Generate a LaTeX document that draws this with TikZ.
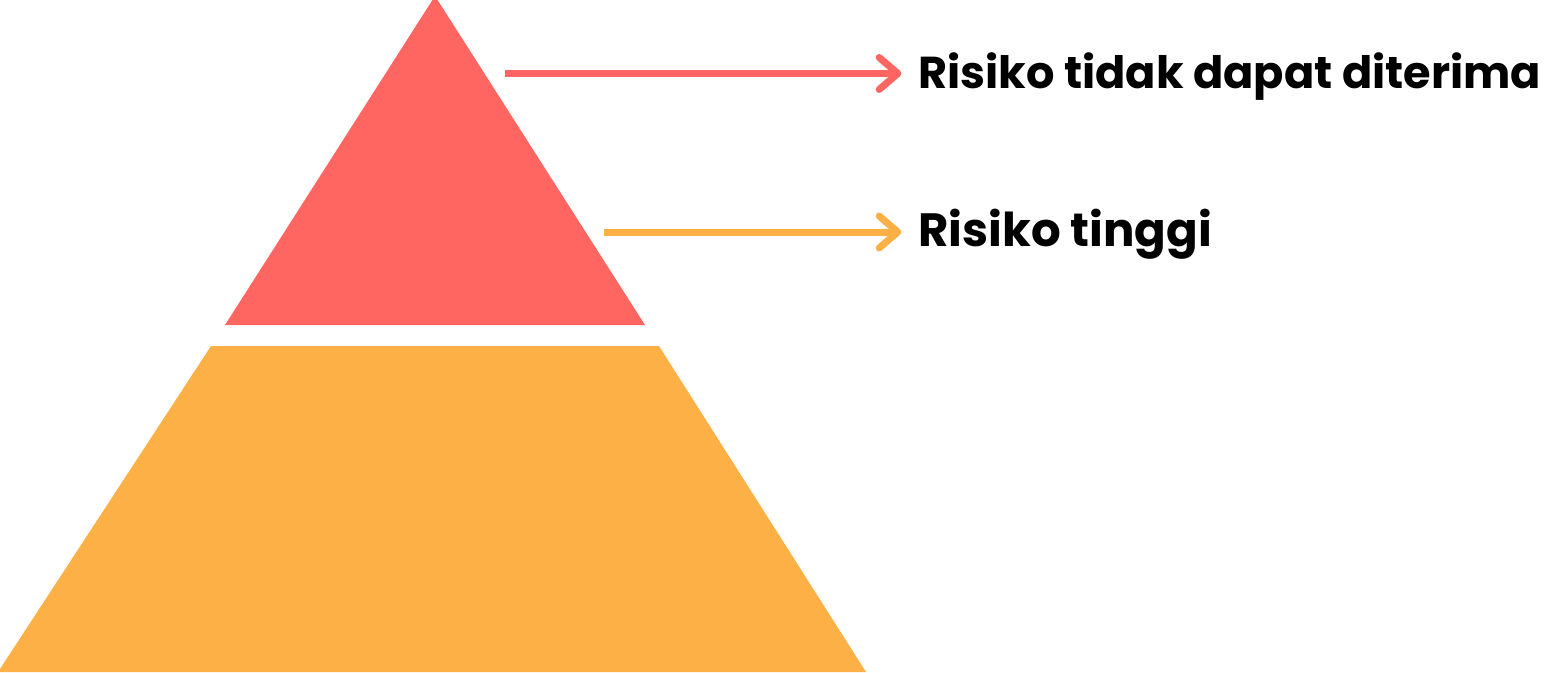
\documentclass[tikz,border=0pt]{standalone}
\usepackage{fontspec}
\setmainfont{Poppins}
\usetikzlibrary{arrows.meta}

\definecolor{riskred}{RGB}{255,102,97}
\definecolor{riskorange}{RGB}{253,176,70}

\tikzset{
  risklabel/.style={anchor=base west,inner sep=0pt,font=\fontsize{35}{42}\selectfont\bfseries},
  riskarrow/.style={line width=5.25pt,line cap=butt,
    -{Straight Barb[length=14pt,width=24pt,line cap=round,line join=round]}}
}

\begin{document}
\begin{tikzpicture}[x=0.75pt,y=0.75pt,yscale=-1,xscale=1]
  \useasboundingbox (0,0) rectangle (1568,672);

  %Shape: Triangle (top layer)
  \fill [riskred] (435,-4) -- (645,325) -- (225,325) -- cycle ;
  %Shape: Trapezoid (bottom layer)
  \fill [riskorange] (211,346) -- (659,346) -- (866,672) -- (-2,672) -- cycle ;

  % Text Node
  \node [risklabel,font=\fontsize{33.5}{40}\selectfont\bfseries] (unacc) at (918,88) {Risiko tidak dapat diterima};
  % Text Node
  \node [risklabel] (high) at (918,246) {Risiko tinggi};

  \coordinate (unaccstart) at (505,73.5);
  \coordinate (highstart) at (604,232);

  %Straight Lines
  \draw [riskarrow,draw=riskred,shorten >=12.5pt] (unaccstart) -- (unaccstart -| unacc.west) ;
  %Straight Lines
  \draw [riskarrow,draw=riskorange,shorten >=12.5pt] (highstart) -- (highstart -| high.west) ;

\end{tikzpicture}
\end{document}
